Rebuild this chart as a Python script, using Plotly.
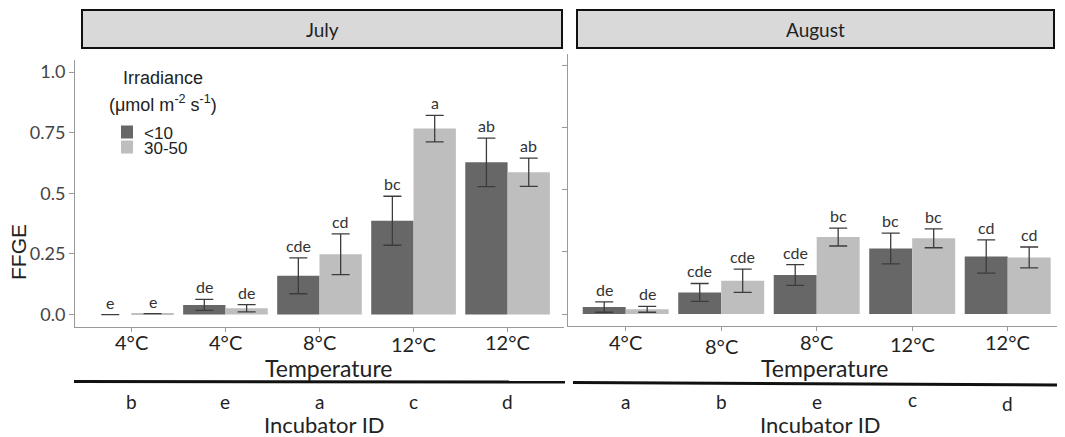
import plotly.graph_objects as go

# ---------------- data ----------------
temps_july = ["4°C", "4°C", "8°C", "12°C", "12°C"]
temps_aug = ["4°C", "8°C", "8°C", "12°C", "12°C"]
incubator_july = ["b", "e", "a", "c", "d"]
incubator_aug = ["a", "b", "e", "c", "d"]

july_low = [0.0, 0.040, 0.160, 0.387, 0.628]
july_low_err = [0.0, 0.023, 0.074, 0.101, 0.100]
july_high = [0.004, 0.026, 0.249, 0.767, 0.587]
july_high_err = [None, 0.015, 0.084, 0.055, 0.058]

aug_low = [0.028, 0.087, 0.157, 0.264, 0.232]
aug_low_err = [0.021, 0.036, 0.042, 0.062, 0.067]
aug_high = [0.019, 0.134, 0.310, 0.305, 0.228]
aug_high_err = [0.012, 0.047, 0.036, 0.038, 0.042]

july_low_sig = ["e", "de", "cde", "bc", "ab"]
july_high_sig = ["e", "de", "cd", "a", "ab"]
aug_low_sig = ["de", "cde", "cde", "bc", "cd"]
aug_high_sig = ["de", "cde", "bc", "bc", "cd"]

series_names = ["<10", "30-50"]
yticks = [0, 0.25, 0.5, 0.75, 1.0]
ytick_text = ["0.0", "0.25", "0.5", "0.75", "1.0"]

# ---------------- styles ----------------
OFF = 8                      # page body margin of the html page
W, H = 1065 - OFF, 437 - OFF
DARK = "#676767"
LIGHT = "#bebebe"
ERR = "#3c3c3c"
AXIS = "#9a9a9a"
TXT = "#333333"
CAL = "Lato, 'Open Sans', sans-serif"
ARIAL = "'Liberation Sans', Arial, sans-serif"
BARGAP = 0.1
# small vertical jitter of the temperature labels (px, positive = down)
tick_dy_july = [0, 0, 0, 2, 0]
tick_dy_aug = [0, 4, 0, 2, 0]
inc_dy_aug = [0, 0, 0, -2, 2]


def px(x):
    return (x - OFF) / W


def py(y):
    return 1 - (y - OFF) / H


fig = go.Figure()


def add_panel(low, low_err, high, high_err, xa, ya):
    xs = list(range(len(low)))
    for vals, errs, col, name in ((low, low_err, DARK, series_names[0]),
                                  (high, high_err, LIGHT, series_names[1])):
        fig.add_trace(go.Bar(
            x=xs, y=vals, name=name, marker=dict(color=col, line=dict(width=0)),
            error_y=dict(type="data", array=errs, visible=True, color=ERR,
                         thickness=1.3, width=9),
            xaxis=xa, yaxis=ya, showlegend=False, hoverinfo="y"))


add_panel(july_low, july_low_err, july_high, july_high_err, "x", "y")
add_panel(aug_low, aug_low_err, aug_high, aug_high_err, "x2", "y2")

annotations = []
half = (1 - BARGAP) / 4


def ann(**kw):
    kw.setdefault("showarrow", False)
    kw.setdefault("xanchor", "center")
    kw.setdefault("yanchor", "middle")
    annotations.append(kw)


def sig_labels(vals, errs, labels, off, xref, yref):
    for i, (v, e, t) in enumerate(zip(vals, errs, labels)):
        top = v + (e or 0)
        ann(x=i + off, y=top, xref=xref, yref=yref, text=t, yanchor="bottom", yshift=1,
            font=dict(family=CAL, size=16, color=TXT))


sig_labels(july_low, july_low_err, july_low_sig, -half, "x", "y")
sig_labels(july_high, july_high_err, july_high_sig, half, "x", "y")
sig_labels(aug_low, aug_low_err, aug_low_sig, -half, "x2", "y2")
sig_labels(aug_high, aug_high_err, aug_high_sig, half, "x2", "y2")

# temperature tick labels
for i, t in enumerate(temps_july):
    ann(x=i, y=py(342 + tick_dy_july[i]), xref="x", yref="paper", text=t,
        font=dict(family=CAL, size=20, color="#222"))
for i, t in enumerate(temps_aug):
    ann(x=i, y=py(342 + tick_dy_aug[i]), xref="x2", yref="paper", text=t,
        font=dict(family=CAL, size=20, color="#222"))

# incubator IDs
for i, t in enumerate(incubator_july):
    ann(x=i, y=py(401), xref="x", yref="paper", text=t,
        font=dict(family=CAL, size=19, color="#222"))
for i, t in enumerate(incubator_aug):
    ann(x=i, y=py(401 + inc_dy_aug[i]), xref="x2", yref="paper", text=t,
        font=dict(family=CAL, size=19, color="#222"))

# axis titles
for xc in (328, 824):
    ann(x=px(xc), y=py(368), xref="paper", yref="paper", text="Temperature",
        font=dict(family=CAL, size=23, color="#222"))
    ann(x=px(xc - 4), y=py(424), xref="paper", yref="paper", text="Incubator ID",
        font=dict(family=CAL, size=22, color="#222"))
ann(x=px(19), y=py(252), xref="paper", yref="paper", text="FFGE", textangle=-90,
    font=dict(family=ARIAL, size=21, color="#222"))

# strips
shapes = []
for (x0, x1, label) in ((82, 562, "July"), (577, 1054, "August")):
    shapes.append(dict(type="rect", xref="paper", yref="paper", x0=px(x0), x1=px(x1),
                       y0=py(48), y1=py(10), fillcolor="#d9d9d9",
                       line=dict(color="#111", width=2), layer="below"))
    ann(x=px((x0 + x1) / 2), y=py(29), xref="paper", yref="paper", text=label,
        font=dict(family=CAL, size=19, color="#222"))

# thick separator lines
shapes.append(dict(type="line", xref="paper", yref="paper", x0=px(74), x1=px(565),
                   y0=py(381.5), y1=py(382), line=dict(color="#111", width=3)))
shapes.append(dict(type="line", xref="paper", yref="paper", x0=px(573), x1=px(1066),
                   y0=py(382.5), y1=py(385), line=dict(color="#111", width=3)))

# legend (drawn manually)
ann(x=px(163), y=py(78), xref="paper", yref="paper", text="Irradiance",
    font=dict(family=ARIAL, size=18, color="#222"))
ann(x=px(163), y=py(104), xref="paper", yref="paper",
    text="(μmol m<sup>-2</sup> s<sup>-1</sup>)",
    font=dict(family=ARIAL, size=18, color="#222"))
for (yc, col, lab) in ((132, DARK, series_names[0]), (147, LIGHT, series_names[1])):
    shapes.append(dict(type="rect", xref="paper", yref="paper", x0=px(121), x1=px(133),
                       y0=py(yc + 6.5), y1=py(yc - 6.5), fillcolor=col, line=dict(width=0)))
    ann(x=px(142), y=py(yc + 1), xref="paper", yref="paper", text=lab, xanchor="left",
        font=dict(family=ARIAL, size=17, color="#222"))

xcommon = dict(range=[-0.6, 4.6], tickmode="array", tickvals=list(range(5)), showline=True,
               linecolor=AXIS, linewidth=1, ticks="outside", ticklen=4, tickcolor=AXIS,
               showgrid=False, zeroline=False, fixedrange=True, showticklabels=False)
ycommon = dict(range=[-0.05, 1.05], tickmode="array", tickvals=yticks, showline=True,
               linecolor=AXIS, linewidth=1, ticks="outside", ticklen=5, tickcolor=AXIS,
               showgrid=False, zeroline=False, fixedrange=True,
               tickfont=dict(family=CAL, size=18, color="#444"))

fig.update_layout(
    width=W, height=H, margin=dict(l=0, r=0, t=0, b=0, autoexpand=False),
    paper_bgcolor="white", plot_bgcolor="white",
    barmode="group", bargap=BARGAP, bargroupgap=0,
    xaxis=dict(domain=[px(75), px(564)], anchor="y", **xcommon),
    yaxis=dict(domain=[py(326.7), py(60)], anchor="x", ticktext=ytick_text,
               ticklabelstandoff=0, **ycommon),
    xaxis2=dict(domain=[px(568.4), 1.0], anchor="y2", **xcommon),
    yaxis2=dict(domain=[py(326.4), py(53.5)], anchor="x2", showticklabels=False, **ycommon),
    annotations=annotations, shapes=shapes, showlegend=False,
)

fig.write_html("out.html")
